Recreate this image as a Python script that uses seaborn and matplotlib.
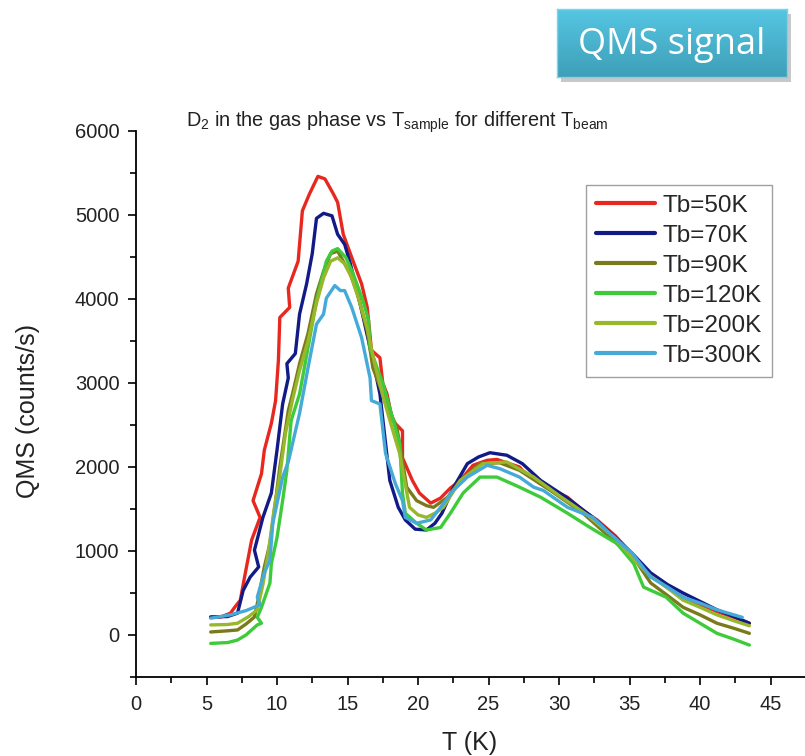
import numpy as np
import pandas as pd
import matplotlib
matplotlib.use("Agg")
import matplotlib.pyplot as plt
import seaborn as sns
from matplotlib.ticker import MultipleLocator
from matplotlib.colors import LinearSegmentedColormap

# ---- data ----
series_names = ["Tb=50K", "Tb=70K", "Tb=90K", "Tb=120K", "Tb=200K", "Tb=300K"]
series_colors = ["#e8281e", "#121a86", "#7a7a1c", "#3ecb3a", "#98b82a", "#45aad8"]

T_50 = [5.3, 6.0, 6.7, 7.0, 7.4, 7.7, 8.2, 8.8, 8.3, 8.9, 9.1, 9.6, 9.9, 10.1, 10.2, 10.9, 10.8, 11.5, 11.8,
        12.3, 12.9, 13.4, 14.0, 14.3, 14.7, 15.4, 16.0, 16.4, 16.7, 17.3, 17.5, 17.8, 18.2, 18.9, 18.9, 19.6,
        20.1, 20.9, 21.6, 22.3, 23.0, 23.9, 24.9, 25.6, 26.3, 27.2, 27.4, 28.7, 30.6, 31.7, 32.7, 34.0, 35.2,
        36.5, 37.7, 38.8, 40.0, 41.2, 42.4, 43.5]
Q_50 = [214, 214, 260, 330, 415, 690, 1130, 1400, 1600, 1920, 2200, 2520, 2790, 3270, 3780, 3900, 4130, 4450, 5050,
        5250, 5460, 5430, 5250, 5150, 4770, 4450, 4180, 3900, 3390, 3300, 3000, 2870, 2550, 2430, 2110, 1840,
        1690, 1570, 1630, 1750, 1840, 2020, 2080, 2090, 2050, 2000, 1960, 1800, 1640, 1480, 1370, 1180, 960,
        720, 560, 450, 360, 280, 210, 140]

T_70 = [5.3, 6.5, 7.2, 7.6, 8.1, 8.7, 8.4, 9.0, 9.6, 10.0, 10.4, 10.8, 10.7, 11.3, 11.6, 12.1, 12.5, 12.8, 13.3,
        13.9, 14.3, 14.8, 15.2, 15.9, 16.8, 17.3, 17.7, 18.0, 18.6, 19.1, 19.8, 20.6, 21.2, 21.7, 22.5, 23.5,
        24.3, 25.1, 26.3, 27.4, 28.7, 30.6, 32.4, 33.6, 35.2, 36.5, 37.7, 38.8, 40.0, 41.2, 42.4, 43.5]
Q_70 = [214, 220, 260, 530, 690, 810, 1010, 1400, 1690, 2200, 2750, 3060, 3230, 3350, 3820, 4180, 4540, 4960, 5020,
        4990, 4770, 4650, 4420, 3940, 3270, 2870, 2280, 1840, 1520, 1370, 1260, 1250, 1330, 1450, 1750, 2040,
        2120, 2170, 2140, 2040, 1840, 1630, 1400, 1220, 970, 740, 600, 500, 400, 300, 220, 140]

T_90 = [5.3, 6.5, 7.2, 7.8, 8.4, 8.7, 9.1, 9.5, 9.9, 10.2, 10.8, 11.1, 11.6, 12.2, 12.8, 13.3, 13.8, 14.3, 14.7,
        15.2, 15.7, 16.4, 16.8, 17.5, 18.5, 18.7, 19.2, 19.9, 20.6, 21.1, 22.1, 23.0, 24.4, 25.8, 27.2, 29.4,
        31.7, 34.1, 35.3, 36.5, 37.7, 38.8, 40.0, 41.2, 42.4, 43.5]
Q_90 = [36, 50, 60, 130, 214, 450, 810, 1090, 1600, 2000, 2670, 2870, 3230, 3590, 4060, 4330, 4540, 4570, 4450,
        4300, 4060, 3620, 3180, 2870, 2470, 2280, 1760, 1600, 1540, 1520, 1640, 1840, 2040, 2050, 1960, 1720,
        1450, 1090, 920, 620, 470, 330, 240, 140, 80, 20]

T_120 = [5.3, 6.5, 7.2, 7.8, 8.6, 8.9, 8.6, 8.9, 9.5, 9.6, 10.0, 10.4, 10.7, 11.0, 11.6, 12.2, 12.8, 13.5, 13.9,
         14.3, 14.9, 15.4, 16.1, 16.5, 16.6, 17.1, 17.5, 18.0, 18.7, 18.9, 19.1, 19.9, 20.6, 21.6, 22.3, 23.2,
         24.4, 25.6, 27.2, 28.7, 30.6, 32.2, 34.1, 35.3, 36.0, 37.6, 38.8, 40.0, 41.2, 42.4, 43.5]
Q_120 = [-100, -90, -60, 0, 120, 140, 210, 330, 620, 850, 1160, 1600, 1960, 2550, 2870, 3420, 3980, 4450, 4570,
         4600, 4490, 4300, 3980, 3740, 3420, 3180, 3000, 2700, 2280, 1690, 1450, 1330, 1250, 1280, 1450, 1690,
         1880, 1880, 1760, 1640, 1450, 1280, 1090, 850, 570, 450, 260, 140, 20, -50, -120]

T_200 = [5.3, 6.5, 7.2, 8.0, 8.6, 9.0, 9.4, 9.8, 10.2, 10.6, 11.1, 11.6, 12.2, 12.8, 13.3, 13.8, 14.3, 14.8, 15.3,
         15.8, 16.4, 16.9, 17.5, 18.1, 18.7, 19.4, 20.0, 20.6, 21.2, 21.8, 23.0, 24.6, 26.3, 28.2, 30.0, 32.0,
         34.0, 35.3, 36.5, 37.7, 38.8, 40.0, 41.2, 42.4, 43.5]
Q_200 = [120, 125, 140, 220, 300, 600, 1000, 1500, 1900, 2400, 2800, 3150, 3500, 3950, 4250, 4450, 4490, 4420, 4250,
         4000, 3650, 3250, 2850, 2500, 2160, 1520, 1430, 1400, 1450, 1520, 1840, 2040, 2060, 1880, 1660, 1430,
         1150, 900, 700, 560, 415, 330, 240, 170, 110]

T_300 = [5.3, 6.7, 7.8, 8.8, 8.6, 9.1, 9.5, 9.7, 10.2, 10.4, 10.8, 11.6, 12.2, 12.8, 13.3, 13.5, 14.1, 14.5, 14.8,
         15.3, 16.0, 16.6, 16.7, 17.3, 17.7, 18.4, 18.9, 19.1, 19.9, 20.9, 21.6, 22.5, 23.5, 24.9, 25.8, 27.2,
         28.2, 28.9, 30.6, 32.4, 33.6, 35.2, 36.5, 37.7, 38.8, 40.0, 41.2, 42.2, 43.0]
Q_300 = [200, 240, 290, 360, 450, 740, 890, 1330, 1720, 1880, 2060, 2640, 3180, 3700, 3820, 4010, 4160, 4100, 4100,
         3900, 3540, 3060, 2790, 2750, 2160, 1800, 1600, 1400, 1330, 1370, 1520, 1720, 1880, 2020, 1980, 1880,
         1760, 1720, 1520, 1400, 1210, 970, 690, 570, 450, 380, 300, 250, 210]

x_ticks = [0, 5, 10, 15, 20, 25, 30, 35, 40, 45]
y_ticks = [0, 1000, 2000, 3000, 4000, 5000, 6000]

# ---- build long-form table ----
all_T = [T_50, T_70, T_90, T_120, T_200, T_300]
all_Q = [Q_50, Q_70, Q_90, Q_120, Q_200, Q_300]
frames = []
for name, ts, qs in zip(series_names, all_T, all_Q):
    frames.append(pd.DataFrame({"T": ts, "QMS": qs, "series": name, "order": range(len(ts))}))
df = pd.concat(frames, ignore_index=True)

# ---- figure ----
sns.set_theme(style="white")
plt.rcParams["font.family"] = ["Liberation Sans", "DejaVu Sans"]
plt.rcParams["mathtext.fontset"] = "custom"
plt.rcParams["mathtext.rm"] = "Liberation Sans"
plt.rcParams["mathtext.it"] = "Liberation Sans"

fig = plt.figure(figsize=(8.05, 7.56), dpi=100)
W, H = 805, 756
ax = fig.add_axes([136 / W, 1 - 677 / H, (W - 136) / W, (677 - 131) / H])

sns.lineplot(data=df, x="T", y="QMS", hue="series", hue_order=series_names,
             palette=series_colors, sort=False, estimator=None, units="series",
             linewidth=2.4, ax=ax, legend=True)

ax.set_xlim(0, (W - 136) / 14.1)
ax.set_ylim(-500, 6000)
ax.set_xticks(x_ticks)
ax.set_yticks(y_ticks)
ax.xaxis.set_minor_locator(MultipleLocator(2.5))
ax.yaxis.set_minor_locator(MultipleLocator(500))
for s in ["top", "right"]:
    ax.spines[s].set_visible(False)
for s in ["left", "bottom"]:
    ax.spines[s].set_color("black")
    ax.spines[s].set_linewidth(1.3)
ax.tick_params(which="major", direction="out", length=6, width=1.2, colors="black",
               labelsize=14.5, bottom=True, left=True)
ax.tick_params(which="minor", direction="out", length=4, width=1.2, colors="black",
               bottom=True, left=True)
for lab in ax.get_xticklabels() + ax.get_yticklabels():
    lab.set_color("#222222")
ax.tick_params(axis="x", pad=7)
ax.tick_params(axis="y", pad=6)

ax.set_xlabel("T (K)", fontsize=18, color="#222222")
ax.set_ylabel("QMS (counts/s)", fontsize=18, color="#222222")
ax.xaxis.set_label_coords((470 - 136) / (W - 136), -(731 - 677) / (677 - 131))
ax.yaxis.set_label_coords(-(136 - 40) / (W - 136), (677 - 411) / (677 - 131))

fig.text(397 / W, 1 - 127 / H,
         r"D$_{2}$ in the gas phase vs T$_{\mathrm{sample}}$ for different T$_{\mathrm{beam}}$",
         ha="center", va="baseline", fontsize=14.3, color="#222222")

leg = ax.legend(loc="upper left", bbox_to_anchor=(586 / W, 1 - 185 / H),
                bbox_transform=fig.transFigure, fontsize=17.5, frameon=True,
                fancybox=False, handlelength=2.45, handletextpad=0.3,
                labelspacing=0.33, borderpad=0.4, borderaxespad=0)
leg.get_frame().set_edgecolor("#888888")
leg.get_frame().set_linewidth(1.0)
for line in leg.get_lines():
    line.set_linewidth(3.0)

# ---- "QMS signal" badge ----
shadow = fig.add_axes([561 / W, 1 - 82 / H, 230 / W, 68 / H])
shadow.set_facecolor("#c8c8c8")
shadow.set_xticks([]); shadow.set_yticks([])
for s in shadow.spines.values():
    s.set_visible(False)
badge = fig.add_axes([557 / W, 1 - 77 / H, 230 / W, 68 / H])
grad = np.linspace(0, 1, 64).reshape(-1, 1)
cmap = LinearSegmentedColormap.from_list("badge", ["#55c6e2", "#3f9fb8"])
badge.imshow(grad, aspect="auto", cmap=cmap, extent=[0, 1, 0, 1], origin="upper")
badge.set_xlim(0, 1); badge.set_ylim(0, 1)
badge.set_xticks([]); badge.set_yticks([])
for s in badge.spines.values():
    s.set_color("#7fd2e8")
    s.set_linewidth(1.0)
badge.text(0.5, 0.47, "QMS signal", ha="center", va="center", color="white",
           fontsize=26, family=["Open Sans", "DejaVu Sans"])

fig.savefig("out.png", dpi=100)
